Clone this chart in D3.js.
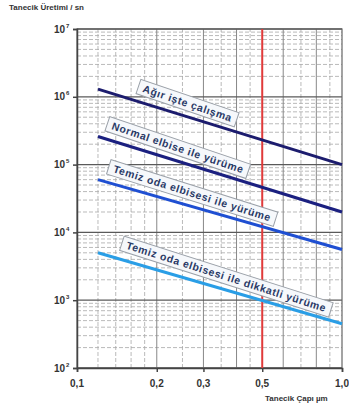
<!DOCTYPE html>
<html><head><meta charset="utf-8">
<script src="https://cdn.jsdelivr.net/npm/d3@7"></script>
<style>
html,body{margin:0;padding:0;background:#fff;}
svg{display:block;font-family:Arial,"Liberation Sans",sans-serif;}
</style></head>
<body>
<svg id="c" width="349" height="408"></svg>
<script>
// ---- data ----
const diameters = [0.12, 1.0];
const seriesNames = [
  "Ağır işte çalışma",
  "Normal elbise ile yürüme",
  "Temiz oda elbisesi ile yürüme",
  "Temiz oda elbisesi ile dikkatli yürüme"
];
const heavyWork = [1.3e6, 1.0e5];
const normalWalk = [2.6e5, 2.0e4];
const cleanWalk = [6.0e4, 5.6e3];
const cleanCareful = [5.0e3, 4.5e2];
const seriesColors = ["#1c1c6e", "#1b2080", "#1f4fd2", "#2a9ee6"];
const xTickValues = [0.1, 0.2, 0.3, 0.5, 1.0];
const xTickLabels = ["0,1", "0,2", "0,3", "0,5", "1,0"];
const yDecades = [1e2, 1e3, 1e4, 1e5, 1e6, 1e7];
const xGrid = [0.12,0.14,0.16,0.18,0.2,0.25,0.3,0.35,0.4,0.45,0.6,0.7,0.8,0.9];
const markerDiameter = 0.5;
const yTitle = "Tanecik Üretimi / sn";
const xTitle = "Tanecik Çapı µm";
// label placement along each line (fraction of x in pixel space)
const labelAt = [0.35, 0.31, 0.37, 0.51];

const svg = d3.select("#c");
const x = d3.scaleLog().domain([0.1, 1]).range([77, 342]);
const y = d3.scaleLog().domain([1e2, 1e7]).range([368, 29]);
const x0 = 77, x1 = 342, y0 = 368, y1 = 29;
const strong = [0.2,0.3,0.4,0.6,0.8];

// horizontal minor grid
const g = svg.append("g");
const minorY = [];
yDecades.slice(0, -1).forEach(d => { for (let k = 2; k <= 9; k++) minorY.push(d * k); });
g.selectAll(".hm").data(minorY).join("line")
  .attr("x1", x0).attr("x2", x1).attr("y1", d => y(d)).attr("y2", d => y(d))
  .attr("stroke", "#a8a8a8").attr("stroke-width", 0.8).attr("stroke-dasharray", "4,2");
// vertical grid
g.selectAll(".vm").data(xGrid).join("line")
  .attr("x1", d => x(d)).attr("x2", d => x(d)).attr("y1", y0).attr("y2", y1)
  .attr("stroke", d => strong.includes(d) ? "#888" : "#a8a8a8")
  .attr("stroke-width", d => strong.includes(d) ? 1 : 0.8)
  .attr("stroke-dasharray", d => strong.includes(d) ? null : "4,2");
// decade lines
g.selectAll(".hd").data(yDecades).join("line")
  .attr("x1", x0).attr("x2", x1).attr("y1", d => y(d)).attr("y2", d => y(d))
  .attr("stroke", "#5a5a5a").attr("stroke-width", 1.3);
// border
g.append("rect").attr("x", x0).attr("y", y1).attr("width", x1 - x0).attr("height", y0 - y1)
  .attr("fill", "none").attr("stroke", "#666").attr("stroke-width", 1.2);

// axes
const yAxis = d3.axisLeft(y).tickValues(yDecades).tickSize(4).tickFormat("");
svg.append("g").attr("transform", `translate(${x0},0)`).call(yAxis)
  .call(a => a.select(".domain").attr("stroke", "#444").attr("stroke-width", 1.5))
  .call(a => a.selectAll("line").attr("stroke", "#444").attr("stroke-width", 1.5));
const xAxis = d3.axisBottom(x).tickValues(xTickValues).tickSize(4).tickFormat("");
svg.append("g").attr("transform", `translate(0,${y0})`).call(xAxis)
  .call(a => a.select(".domain").attr("stroke", "#444").attr("stroke-width", 1.5))
  .call(a => a.selectAll("line").attr("stroke", "#444").attr("stroke-width", 1.5));

// y tick labels 10^n
yDecades.forEach(d => {
  svg.append("text").attr("x", 65).attr("y", y(d) + 3.5)
    .attr("text-anchor", "end").attr("font-size", 10).attr("font-weight", "bold").attr("fill", "#333")
    .text("10");
  svg.append("text").attr("x", 66).attr("y", y(d) - 1.5)
    .attr("font-size", 6).attr("font-weight", "bold").attr("fill", "#333")
    .text(Math.round(Math.log10(d)));
});
// x tick labels
svg.selectAll(".xl").data(xTickValues).join("text")
  .attr("x", d => x(d)).attr("y", 387).attr("text-anchor", "middle")
  .attr("font-size", 10).attr("font-weight", "bold").attr("fill", "#333")
  .text((d, i) => xTickLabels[i]);

// titles
svg.append("text").attr("x", 9).attr("y", 10).attr("font-size", 8).attr("font-weight", "bold")
  .attr("fill", "#333").text(yTitle);
svg.append("text").attr("x", 265).attr("y", 401).attr("font-size", 8).attr("font-weight", "bold")
  .attr("fill", "#333").text(xTitle);

// red marker line
svg.append("line").attr("x1", x(markerDiameter)).attr("x2", x(markerDiameter))
  .attr("y1", y1).attr("y2", y0).attr("stroke", "#e03a3a").attr("stroke-width", 2);

// series lines
const series = [heavyWork, normalWalk, cleanWalk, cleanCareful];
const line = d3.line().x(d => x(d[0])).y(d => y(d[1]));
series.forEach((s, i) => {
  svg.append("path").datum(diameters.map((dd, j) => [dd, s[j]]))
    .attr("d", line).attr("fill", "none").attr("stroke", seriesColors[i]).attr("stroke-width", 3);
});

// labels (rotated boxes)
series.forEach((s, i) => {
  const ax = x(diameters[0]), ay = y(s[0]), bx = x(diameters[1]), by = y(s[1]);
  const ang = Math.atan2(by - ay, bx - ax) * 180 / Math.PI + 1.5;
  const f = labelAt[i];
  const cx = ax + (bx - ax) * f, cy = ay + (by - ay) * f;
  const lg = svg.append("g").attr("transform", `translate(${cx},${cy}) rotate(${ang}) translate(0,-13)`);
  const txt = lg.append("text").attr("text-anchor", "middle").attr("y", 3.8)
    .attr("font-size", 10.5).attr("font-weight", "bold").attr("fill", "#2a3a66")
    .attr("letter-spacing", 0.6).text(seriesNames[i]);
  const bb = txt.node().getBBox();
  lg.insert("rect", "text").attr("x", bb.x - 5).attr("y", -7.5).attr("width", bb.width + 10).attr("height", 15)
    .attr("fill", "#f6f8fb").attr("stroke", "#9aa0a8").attr("stroke-width", 1);
});
</script>
</body></html>
